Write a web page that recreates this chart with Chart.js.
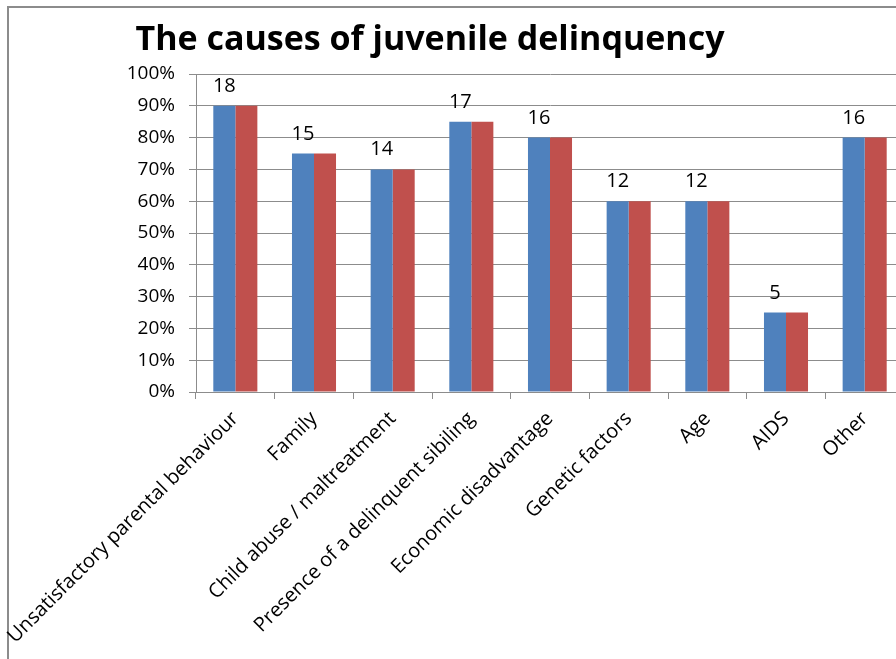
<!DOCTYPE html>
<html>
<head>
<meta charset="utf-8">
<script src="https://cdn.jsdelivr.net/npm/chart.js@4"></script>
<style>
  html, body { margin: 0; padding: 0; background: #fff; overflow: hidden; }
  #frame { position: absolute; left: 7px; top: 6px; width: 1000px; height: 660px; border: 2px solid #8c8c8c; }
  #wrap { position: absolute; left: 0; top: 0; width: 920px; height: 659px; }
</style>
</head>
<body>
<div id="frame"></div>
<div id="wrap"><canvas id="chart" width="920" height="659"></canvas></div>
<script>
const titleText = 'The causes of juvenile delinquency';
const categories = [
  'Unsatisfactory parental behaviour',
  'Family',
  'Child abuse / maltreatment',
  'Presence of a delinquent sibiling',
  'Economic disadvantage',
  'Genetic factors',
  'Age',
  'AIDS',
  'Other'
];
const seriesBlue = [90, 75, 70, 85, 80, 60, 60, 25, 80];
const seriesRed = [90, 75, 70, 85, 80, 60, 60, 25, 80];
const counts = [18, 15, 14, 17, 16, 12, 12, 5, 16];

const FONT = '"Open Sans", "DejaVu Sans", sans-serif';

// title drawn left of centre like the original (chart is cut on the right)
const titlePlugin = {
  id: 'titlePlugin',
  afterDraw(chart) {
    const c = chart.ctx;
    c.save();
    c.font = 'bold 34px ' + FONT;
    c.fillStyle = '#000';
    c.textAlign = 'center';
    c.textBaseline = 'alphabetic';
    c.fillText(titleText, 430, 50);
    c.restore();
  }
};

// counts above the blue bars
const countLabels = {
  id: 'countLabels',
  afterDatasetsDraw(chart) {
    const c = chart.ctx;
    const meta = chart.getDatasetMeta(0);
    c.save();
    c.font = '20px ' + FONT;
    c.fillStyle = '#000';
    c.textAlign = 'center';
    c.textBaseline = 'alphabetic';
    meta.data.forEach((bar, i) => {
      c.fillText(String(counts[i]), bar.x, bar.y - 14);
    });
    c.restore();
  }
};

new Chart(document.getElementById('chart'), {
  type: 'bar',
  data: {
    labels: categories,
    datasets: [{
      label: 'Series 1',
      data: seriesBlue,
      backgroundColor: '#4F81BD',
      categoryPercentage: 0.56,
      barPercentage: 1.0
    }, {
      label: 'Series 2',
      data: seriesRed,
      backgroundColor: '#C0504D',
      categoryPercentage: 0.56,
      barPercentage: 1.0
    }]
  },
  options: {
    responsive: false,
    animation: false,
    layout: { padding: { top: 74, right: 16, left: 0, bottom: 0 } },
    plugins: {
      legend: { display: false },
      title: { display: false },
      tooltip: { enabled: false }
    },
    scales: {
      x: {
        grid: { display: true, drawOnChartArea: false, drawTicks: true, tickLength: 7, color: '#8c8c8c', offset: true },
        border: { color: '#8c8c8c', width: 1 },
        ticks: {
          color: '#000',
          font: { family: FONT, size: 20 },
          minRotation: 45,
          maxRotation: 45,
          autoSkip: false,
          padding: 8
        },
        afterFit(scale) {
          scale.height = 267;
          // long first label would otherwise push the plot to the right
          scale.paddingLeft = 0;
          scale.paddingRight = 0;
        }
      },
      y: {
        min: 0,
        max: 100,
        grid: { color: '#8c8c8c', tickLength: 7, drawTicks: true },
        border: { color: '#8c8c8c', width: 1 },
        ticks: {
          stepSize: 10,
          color: '#000',
          font: { family: FONT, size: 19 },
          padding: 14,
          callback: v => v + '%'
        },
        afterFit(scale) { scale.width = 196; }
      }
    }
  },
  plugins: [titlePlugin, countLabels]
});
</script>
</body>
</html>
